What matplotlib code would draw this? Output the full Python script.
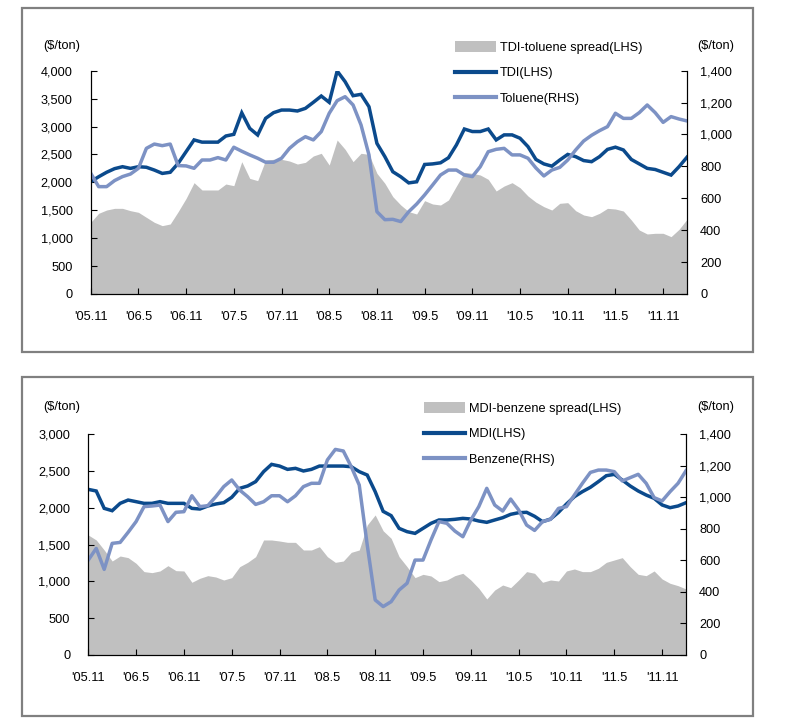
import matplotlib.pyplot as plt
from matplotlib.patches import Patch, Rectangle
from matplotlib.lines import Line2D
from matplotlib.ticker import FuncFormatter

plt.rcParams['font.family'] = ['Liberation Sans', 'DejaVu Sans']

# monthly data, 2005.11 .. 2012.2 (76 months)
tick_labels = ["'05.11", "'06.5", "'06.11", "'07.5", "'07.11", "'08.5",
               "'08.11", "'09.5", "'09.11", "'10.5", "'10.11", "'11.5", "'11.11"]

tdi = [2010, 2100, 2180, 2245, 2280, 2250, 2280, 2270, 2220, 2160,
       2180, 2340, 2550, 2760, 2720, 2720, 2720, 2830, 2860, 3245,
       2967, 2848, 3146, 3248, 3295, 3295, 3278, 3325, 3433, 3546,
       3433, 3994, 3803, 3552, 3576, 3355, 2698, 2460, 2190, 2100,
       1990, 2010, 2320, 2330, 2350, 2440, 2670, 2955, 2910, 2910,
       2955, 2760, 2850, 2850, 2790, 2640, 2410, 2330, 2290, 2400,
       2500, 2460, 2390, 2370, 2460, 2590, 2630, 2580, 2410, 2330,
       2250, 2230, 2180, 2130, 2280, 2450]

toluene = [757, 673, 673, 711, 736, 752, 788, 913, 940, 930,
           940, 805, 803, 788, 840, 840, 855, 840, 920, 895,
           872, 851, 826, 826, 851, 913, 955, 986, 966, 1018,
           1133, 1212, 1237, 1185, 1060, 872, 516, 466, 468, 454,
           516, 564, 621, 683, 746, 777, 777, 746, 736, 798,
           892, 907, 913, 872, 872, 851, 790, 740, 777, 794,
           840, 903, 959, 995, 1024, 1049, 1133, 1101, 1101, 1137,
           1185, 1137, 1076, 1112, 1097, 1085]

tdi_spread = [1284, 1445, 1504, 1534, 1534, 1492, 1463, 1373, 1284, 1224,
              1254, 1475, 1713, 1994, 1863, 1863, 1863, 1970, 1940, 2370,
              2071, 2030, 2400, 2412, 2412, 2382, 2328, 2358, 2472, 2520,
              2310, 2758, 2591, 2370, 2520, 2501, 2161, 1982, 1743, 1594,
              1475, 1433, 1672, 1612, 1594, 1684, 1934, 2179, 2161, 2131,
              2054, 1845, 1934, 1994, 1904, 1755, 1645, 1564, 1504, 1624,
              1636, 1492, 1415, 1385, 1445, 1534, 1522, 1486, 1325, 1146,
              1075, 1087, 1087, 1027, 1158, 1337]

mdi = [2251, 2229, 1993, 1961, 2061, 2106, 2084, 2061, 2061, 2084,
       2061, 2061, 2061, 1993, 1984, 2025, 2052, 2070, 2143, 2265,
       2297, 2356, 2492, 2591, 2568, 2523, 2537, 2501, 2523, 2568,
       2568, 2568, 2568, 2559, 2492, 2446, 2220, 1952, 1894, 1721,
       1676, 1653, 1721, 1789, 1835, 1835, 1844, 1857, 1848, 1821,
       1803, 1835, 1866, 1912, 1934, 1939, 1885, 1812, 1848, 1939,
       2052, 2152, 2220, 2279, 2356, 2437, 2455, 2378, 2297, 2229,
       2174, 2129, 2039, 2002, 2025, 2070]

benzene = [602, 676, 543, 708, 714, 778, 846, 941, 945, 951,
           846, 905, 909, 1010, 941, 947, 1004, 1068, 1110, 1046,
           1004, 955, 972, 1010, 1010, 972, 1010, 1068, 1089, 1089,
           1237, 1304, 1294, 1194, 1078, 698, 349, 307, 338, 412,
           455, 602, 602, 729, 846, 835, 786, 750, 856, 941,
           1057, 951, 913, 989, 920, 824, 790, 846, 860, 930,
           941, 1015, 1089, 1158, 1173, 1173, 1163, 1104, 1125, 1146,
           1089, 998, 977, 1036, 1089, 1169]

mdi_spread = [1631, 1563, 1427, 1277, 1345, 1323, 1246, 1133, 1119, 1142,
              1214, 1146, 1142, 988, 1042, 1078, 1060, 1019, 1051, 1200,
              1259, 1336, 1563, 1563, 1549, 1531, 1531, 1427, 1427, 1472,
              1336, 1259, 1277, 1395, 1427, 1767, 1903, 1688, 1586, 1336,
              1200, 1051, 1096, 1074, 997, 1019, 1078, 1110, 1019, 906,
              761, 883, 951, 915, 1019, 1133, 1110, 988, 1019, 1006,
              1142, 1169, 1133, 1133, 1178, 1259, 1291, 1323, 1200, 1096,
              1078, 1142, 1033, 974, 942, 897]

DARK = '#0b4a8c'
LIGHT = '#7d92c4'
GREY = '#c0c0c0'
FS = 9.2

fig = plt.figure(figsize=(7.93, 7.25), dpi=100)

# panel frames
for y0, h in [(0.5145, 0.4745), (0.0124, 0.4676)]:
    fig.add_artist(Rectangle((0.0277, y0), 0.9218, h, transform=fig.transFigure,
                             fill=False, edgecolor='#808080', linewidth=1.6))


def draw_panel(rect, spread, main, feed, lmax, lstep, names, leg_xy, unit_y):
    ax = fig.add_axes(rect)
    x = list(range(len(main)))
    ax.fill_between(x, 0, spread, color=GREY, linewidth=0)
    ax.plot(x, main, color=DARK, linewidth=2.5, solid_joinstyle='miter')
    ax.set_xlim(0, len(main) - 1)
    ax.set_ylim(0, lmax)
    ax.set_yticks(range(0, lmax + 1, lstep))
    ax.yaxis.set_major_formatter(FuncFormatter(lambda v, p: f'{int(v):,}'))
    ax.set_xticks(range(0, len(main), 6))
    ax.set_xticklabels(tick_labels)
    ax.tick_params(direction='in', length=4, labelsize=FS, width=0.8)
    ax.tick_params(axis='x', pad=12.5)
    ax.tick_params(axis='y', pad=13)
    ax.spines['top'].set_visible(False)

    ax2 = ax.twinx()
    ax2.plot(x, feed, color=LIGHT, linewidth=2.5)
    ax2.set_ylim(0, 1400)
    ax2.set_yticks(range(0, 1401, 200))
    ax2.yaxis.set_major_formatter(FuncFormatter(lambda v, p: f'{int(v):,}'))
    ax2.tick_params(direction='in', length=4, labelsize=FS, width=0.8, pad=9.5)
    ax2.spines['top'].set_visible(False)

    handles = [Patch(facecolor=GREY, edgecolor='none'),
               Line2D([], [], color=DARK, linewidth=3),
               Line2D([], [], color=LIGHT, linewidth=3)]
    ax2.legend(handles, names, loc='upper left', bbox_to_anchor=leg_xy,
               bbox_transform=fig.transFigure, frameon=False, fontsize=FS,
               handlelength=3.2, handleheight=0.9, handletextpad=0.3,
               labelspacing=1.02, borderpad=0, borderaxespad=0)

    fig.text(0.054, unit_y, '($/ton)', fontsize=FS, va='center', ha='left')
    fig.text(0.903, unit_y, '($/ton)', fontsize=FS, va='center', ha='center')
    return ax


draw_panel([0.1144, 0.5945, 0.7519, 0.308], tdi_spread, tdi, toluene, 4000, 500,
           ['TDI-toluene spread(LHS)', 'TDI(LHS)', 'Toluene(RHS)'],
           (0.5738, 1 - 41 / 725), 1 - 46 / 725)
draw_panel([0.1113, 0.0966, 0.7538, 0.3044], mdi_spread, mdi, benzene, 3000, 500,
           ['MDI-benzene spread(LHS)', 'MDI(LHS)', 'Benzene(RHS)'],
           (0.5347, 1 - 402 / 725), 1 - 407 / 725)

fig.savefig('out.png', dpi=100)
